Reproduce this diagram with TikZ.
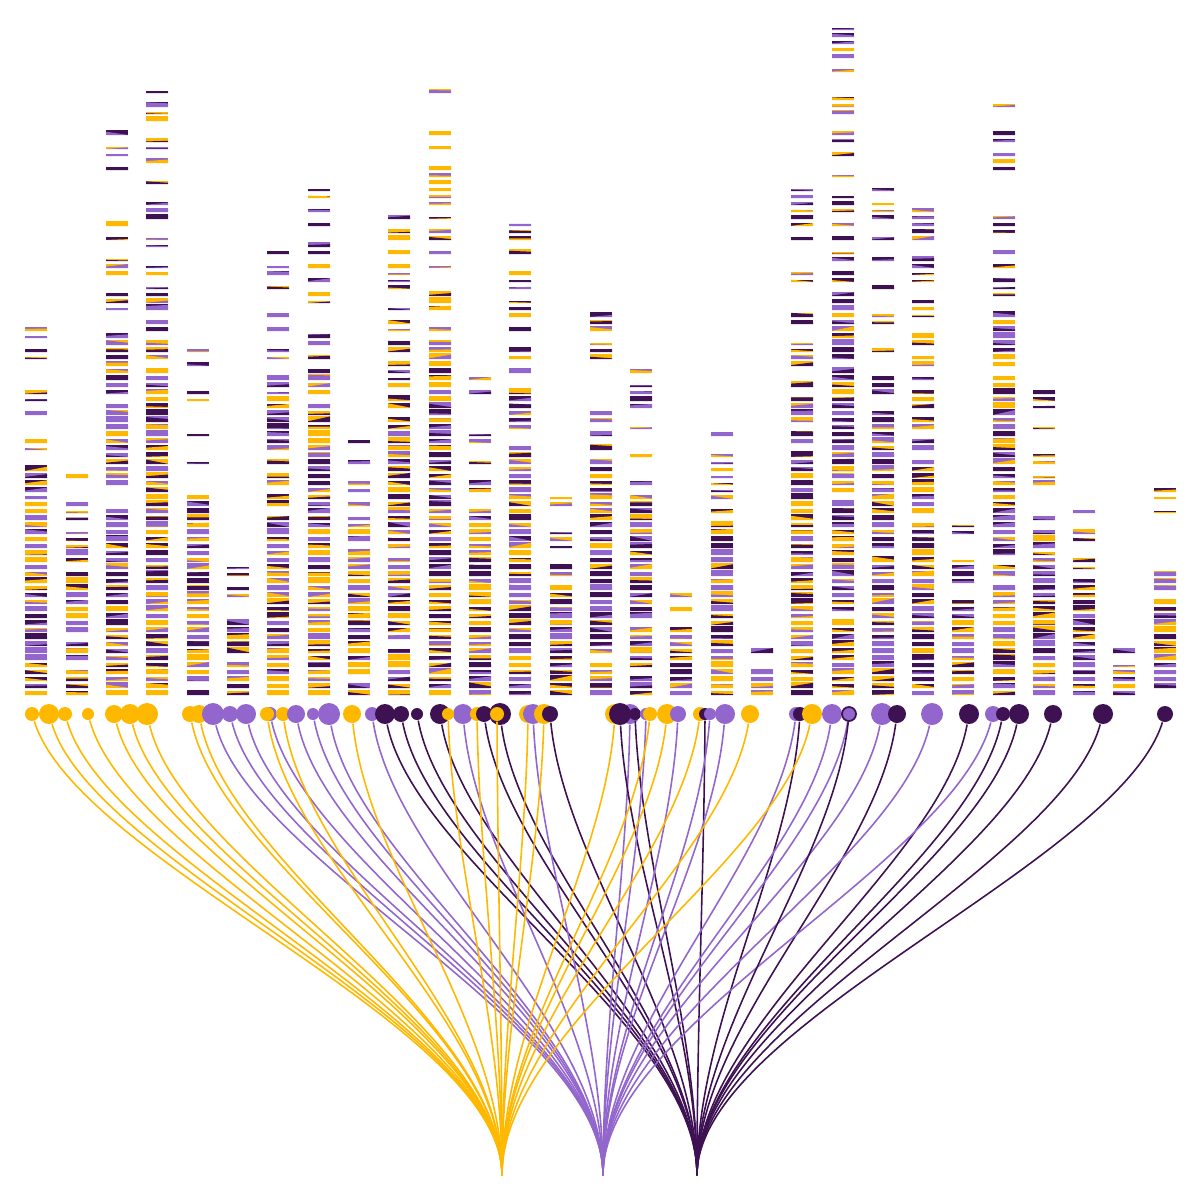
\documentclass[tikz,border=0pt]{standalone}
\usetikzlibrary{calc}
\definecolor{amber}{RGB}{255,184,0}
\definecolor{lilac}{RGB}{146,102,204}
\definecolor{plum}{RGB}{61,17,82}
\tikzset{
  bead/.style={circle, inner sep=0pt, minimum size=#1*0.2mm},
  strand/.style={line width=0.45pt}
}
\pgfmathdeclarerandomlist{hues}{{amber}{lilac}{plum}}
\begin{document}
\begin{tikzpicture}[x=0.01cm,y=-0.01cm]
        \useasboundingbox (0,0) rectangle (1200,1200);
        \pgfmathsetseed{41}

        % Striped columns
        \foreach \cx/\top in {36/328, 77/478, 117/130, 157/90, 198/349, 238/567,
                278/253, 319/185, 359/437, 399/218, 440/88, 480/377, 520/226,
                561/498, 601/311, 641/369, 681/593, 722/434, 762/652, 802/185,
                843/25, 883/187, 923/211, 963/526, 1004/106, 1044/389, 1084/512,
                1124/652, 1165/490} {
            \pgfmathtruncatemacro\nslots{(695-\top)/7}
            \foreach \k in {0,...,\nslots} {
                \pgfmathsetmacro\yb{695-7*\k}
                \pgfmathsetmacro\fpos{(\yb-\top)/(695-\top)}
                \pgfmathsetmacro\pk{min(0.97,max(0.5,0.5+2.2*(\fpos-0.3)))}
                \pgfmathtruncatemacro\keep{(rnd < \pk) || (\k==\nslots)}
                \ifnum\keep=1
                    \pgfmathsetmacro\hh{\fpos>0.35 ? 3.5+2.3*rnd : 1.5+3.5*rnd}
                    \pgfmathrandomitem{\ca}{hues}
                    \pgfmathrandomitem{\cb}{hues}
                    \pgfmathsetmacro\ua{rnd}
                    \pgfmathsetmacro\ub{rnd}
                    \fill[\ca] (\cx-11,\yb) rectangle (\cx+11,\yb-\hh);
                    \fill[\cb] (\cx-11,\yb) -- (\cx+11,\yb) -- (\cx+11,\yb-\hh*\ua)
                        -- (\cx-11,\yb-\hh*\ub) -- cycle;
                \fi
            }
        }

        % Sinks
        \coordinate (s-amber) at (502,1175);
        \coordinate (s-lilac) at (603,1175);
        \coordinate (s-plum) at (697,1175);

        % Beads and strands
        \foreach \n/\x/\r/\c in {1/32/7/amber, 2/49/10/amber, 3/65/7/amber, 4/88/6/amber,
                5/114/9/amber, 6/130/10/amber, 7/147/11/amber, 8/190/8/amber,
                9/199/9/amber, 10/213/11/lilac, 11/230/8/lilac, 12/246/10/lilac,
                13/270/7/lilac, 14/267/7/amber, 15/283/7/amber, 16/296/9/lilac,
                17/313/6/lilac, 18/329/11/lilac, 19/352/9/amber, 20/372/7/lilac,
                21/385/10/plum, 22/401/8/plum, 23/417/6/plum, 24/440/10/plum,
                25/463/10/lilac, 26/448/6/amber, 27/477/7/amber, 28/484/8/plum,
                29/500/11/plum, 30/497/7/amber, 31/528/9/amber, 32/533/10/lilac,
                33/544/10/amber, 34/550/8/plum, 35/615/10/amber, 36/630/10/lilac,
                37/620/11/plum, 38/635/6/plum, 39/646/6/lilac, 40/650/7/amber,
                41/667/10/amber, 42/678/8/lilac, 43/700/7/amber, 44/705/6/plum,
                45/710/6/lilac, 46/725/10/lilac, 47/750/9/amber, 48/796/7/lilac,
                49/800/7/plum, 50/812/10/amber, 51/832/10/lilac, 52/849/7/lilac,
                53/882/11/lilac, 54/897/9/plum, 55/932/11/lilac, 56/969/10/plum,
                57/993/8/lilac, 58/1003/7/plum, 59/1019/10/plum, 60/1053/9/plum,
                61/1103/10/plum, 62/1165/8/plum} {
            \node[bead=\r, fill=\c] (b\n) at (\x,714) {};
            \draw[strand, \c] (b\n)
                .. controls ($(b\n.center)!0.1!(s-\c)+(0,104)$) and +(0,-150) .. (s-\c);
        }
        \node[bead=7, fill=lilac, draw=plum, line width=0.5pt] at (b52) {};
        \draw[strand, plum] (b52)
            .. controls ($(b52.center)!0.1!(s-plum)+(0,104)$) and +(0,-150) .. (s-plum);
    \end{tikzpicture}
\end{document}
